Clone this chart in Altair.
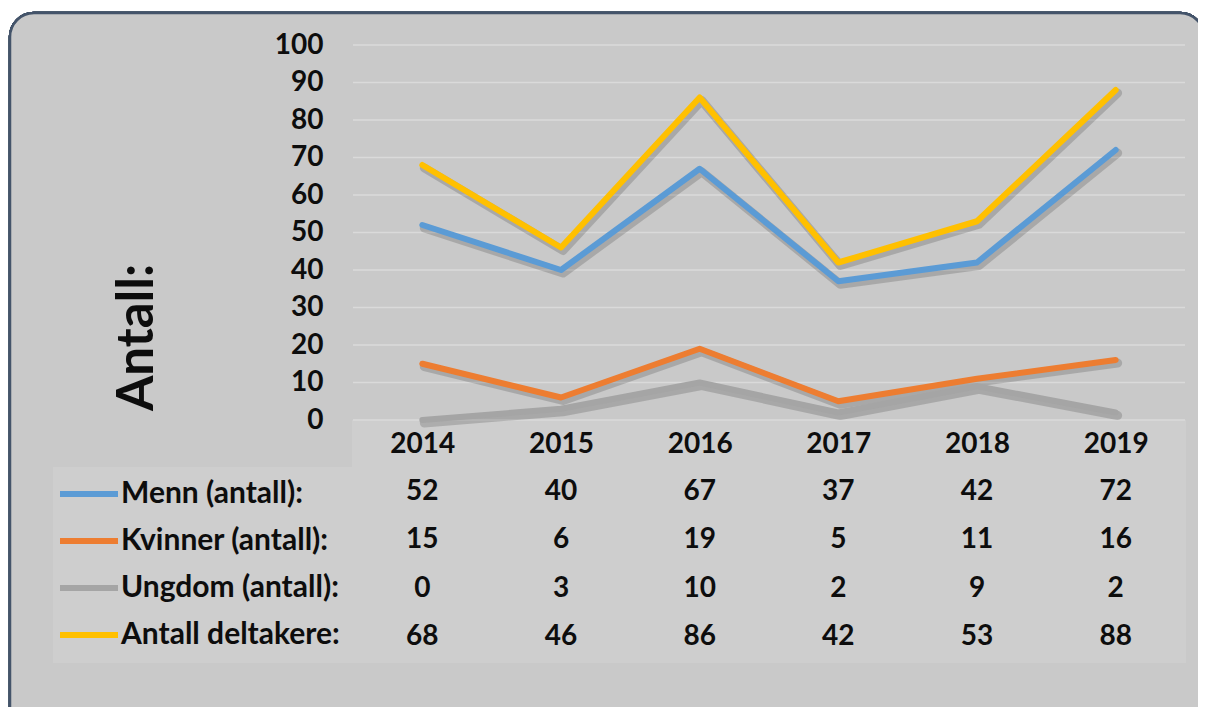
import altair as alt
import pandas as pd

years = ["2014", "2015", "2016", "2017", "2018", "2019"]
series = ["Menn (antall):", "Kvinner (antall):", "Ungdom (antall):", "Antall deltakere:"]
menn = [52, 40, 67, 37, 42, 72]
kvinner = [15, 6, 19, 5, 11, 16]
ungdom = [0, 3, 10, 2, 9, 2]
totalt = [68, 46, 86, 42, 53, 88]
colors = ["#5b9bd5", "#ed7d31", "#a5a5a5", "#ffc000"]
y_ticks = [0, 10, 20, 30, 40, 50, 60, 70, 80, 90, 100]

values = [menn, kvinner, ungdom, totalt]
rows = []
for s, vals in zip(series, values):
    for yr, v in zip(years, vals):
        rows.append({"year": yr, "series": s, "value": v})
df = pd.DataFrame(rows)
grid_df = pd.DataFrame({"v": y_ticks})

FONT = "Lato"
TXT = "#0d0d0d"
W, H = 832, 375

xenc = alt.X("year:O", sort=years,
             scale=alt.Scale(type="point", padding=0.5),
             axis=alt.Axis(title=None, labelAngle=0, labelFont=FONT, labelFontWeight="bold",
                           labelFontSize=28, labelColor=TXT, labelPadding=10, ticks=False,
                           tickSize=0, domain=False, grid=False, zindex=1))
yscale = alt.Scale(domain=[0, 100], nice=False)

frame = alt.Chart(grid_df).mark_rect(fill="#c9c9c9", stroke="#44546a", strokeWidth=2.5,
                                     cornerRadius=24).encode(
    x=alt.value(-343), x2=alt.value(851), y=alt.value(-32), y2=alt.value(690))

box1 = alt.Chart(grid_df).mark_rect(fill="#cecece").encode(
    x=alt.value(-300), x2=alt.value(833), y=alt.value(422), y2=alt.value(618))
box2 = alt.Chart(grid_df).mark_rect(fill="#cecece").encode(
    x=alt.value(-1), x2=alt.value(833), y=alt.value(375), y2=alt.value(422))

grid = alt.Chart(grid_df).mark_rule(color="#dadada", strokeWidth=1.5).encode(
    y=alt.Y("v:Q", scale=yscale, axis=None))

shadow = alt.Chart(df).mark_line(color="#000000", opacity=0.16, strokeWidth=9,
                                 strokeCap="round", strokeJoin="round",
                                 xOffset=2, yOffset=3).encode(
    x=xenc,
    y=alt.Y("value:Q", scale=yscale, axis=None),
    detail="series:N")

lines = alt.Chart(df).mark_line(strokeWidth=6, strokeCap="round", strokeJoin="round").encode(
    x=xenc,
    y=alt.Y("value:Q", scale=yscale,
            axis=alt.Axis(values=y_ticks, title="Antall:", titleFont=FONT, titleFontWeight="bold",
                          titleFontSize=51, titleColor=TXT, titleAngle=270, titleX=-216,
                          titleY=292, titleAlign="center", titleBaseline="middle",
                          labelFont=FONT, labelFontWeight="bold", labelFontSize=28,
                          labelColor=TXT, labelPadding=30, ticks=False, domain=False,
                          grid=False, zindex=1)),
    color=alt.Color("series:N", sort=series,
                    scale=alt.Scale(domain=series, range=colors),
                    legend=alt.Legend(title=None, orient="none", legendX=-296, legendY=417,
                                      direction="vertical", symbolType="stroke",
                                      symbolSize=3364, symbolStrokeWidth=6,
                                      labelFont=FONT, labelFontWeight="bold",
                                      labelFontSize=30, labelColor=TXT, labelOffset=0,
                                      rowPadding=-14, padding=0, labelLimit=400)),
    order=alt.Order("year:O"))

table = alt.Chart(df).mark_text(font=FONT, fontWeight="bold", fontSize=28, color=TXT,
                                align="center", baseline="middle").encode(
    x=xenc,
    y=alt.Y("series:N", sort=series,
            scale=alt.Scale(type="point", domain=series, range=[447, 592], padding=0),
            axis=None),
    text=alt.Text("value:Q"))

chart = alt.layer(frame, box1, box2, grid, shadow, lines, table).resolve_scale(
    y="independent").properties(
    width=W, height=H,
    autosize=alt.AutoSizeParams(type="none"),
    padding={"left": 345, "top": 37, "right": 13, "bottom": 287},
    background="white",
).configure_view(stroke=None)

chart.save("out.html", embed_options={"renderer": "svg", "actions": False})
